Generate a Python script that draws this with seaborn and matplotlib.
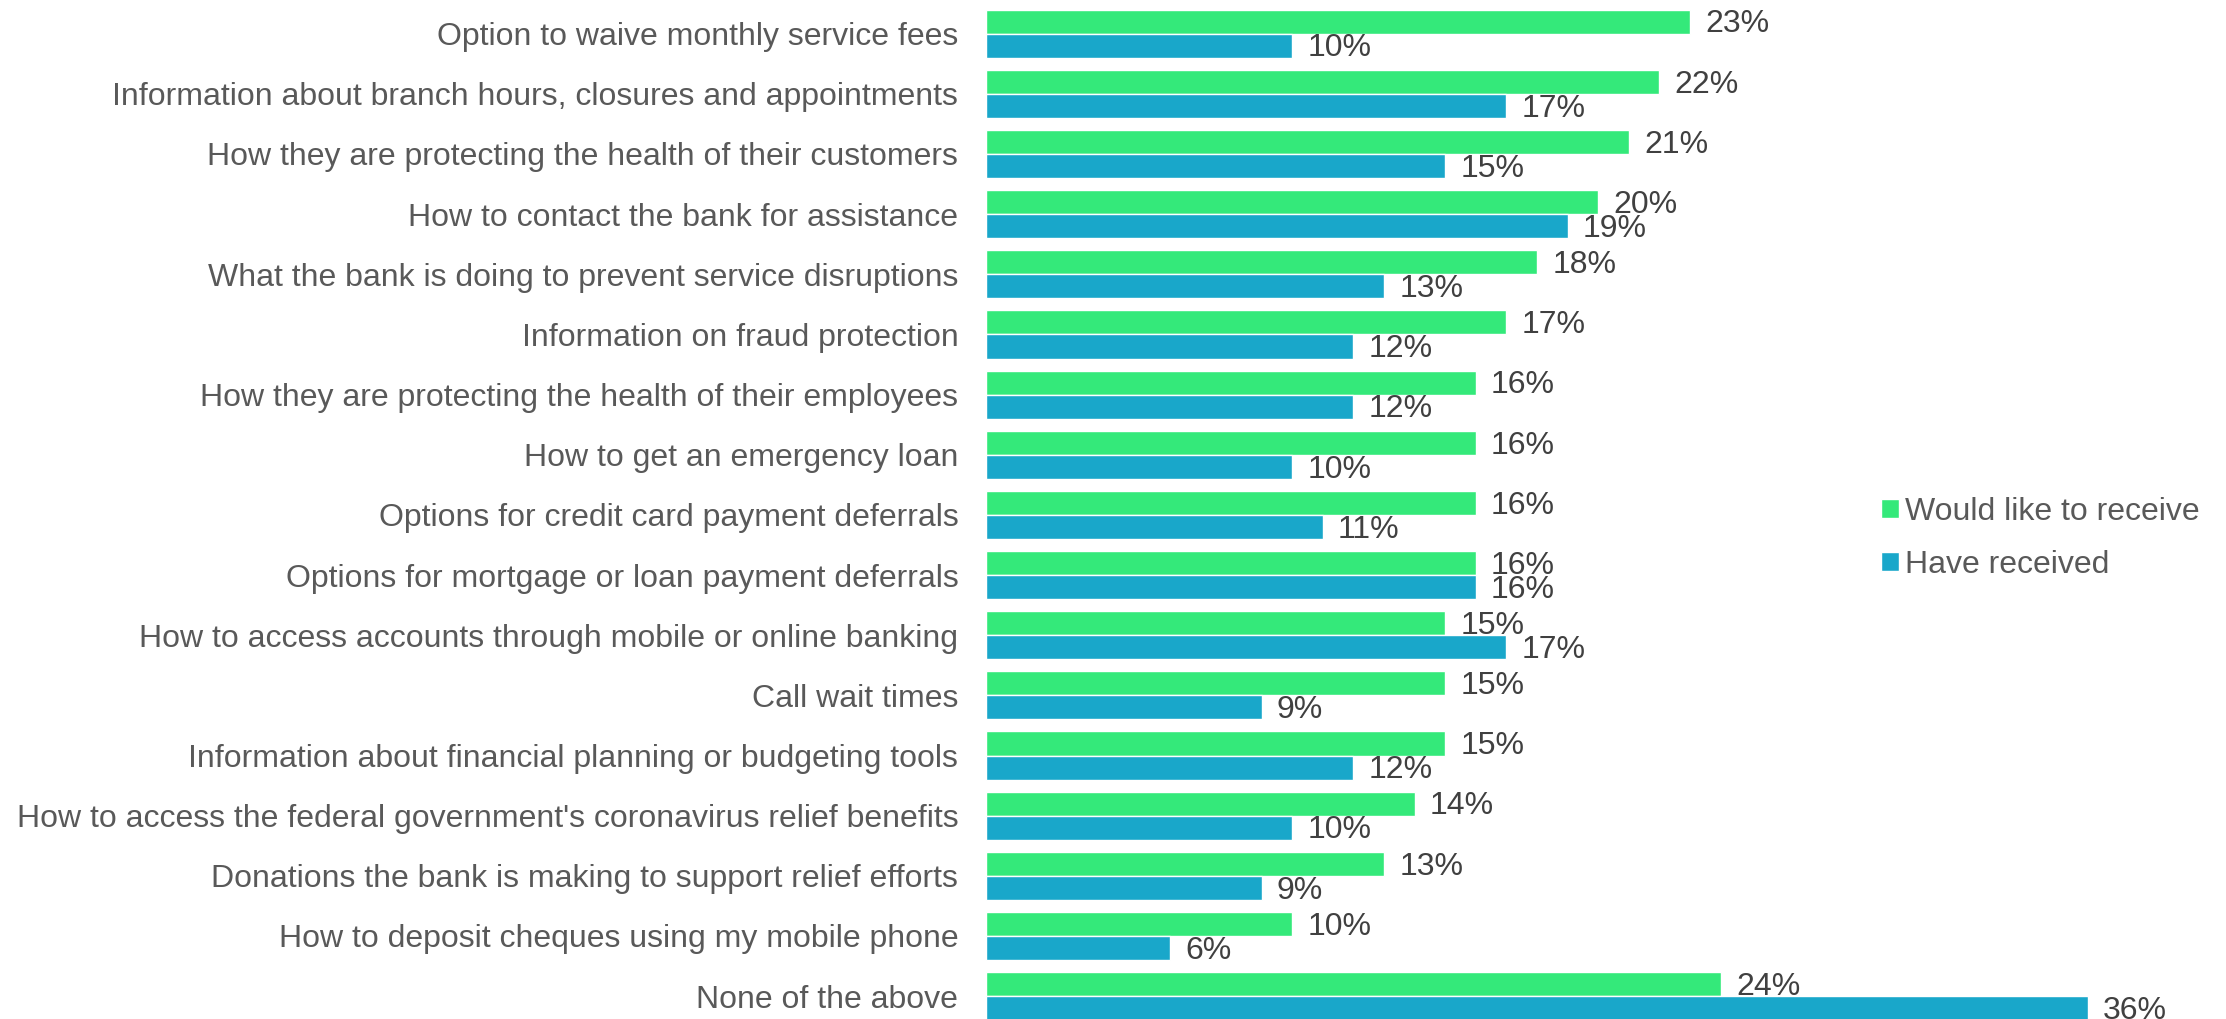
import matplotlib
matplotlib.use("Agg")
import matplotlib.pyplot as plt
import seaborn as sns
import pandas as pd

# Survey topics (top to bottom)
topics = [
    "Option to waive monthly service fees",
    "Information about branch hours, closures and appointments",
    "How they are protecting the health of their customers",
    "How to contact the bank for assistance",
    "What the bank is doing to prevent service disruptions",
    "Information on fraud protection",
    "How they are protecting the health of their employees",
    "How to get an emergency loan",
    "Options for credit card payment deferrals",
    "Options for mortgage or loan payment deferrals",
    "How to access accounts through mobile or online banking",
    "Call wait times",
    "Information about financial planning or budgeting tools",
    "How to access the federal government's coronavirus relief benefits",
    "Donations the bank is making to support relief efforts",
    "How to deposit cheques using my mobile phone",
    "None of the above",
]

series_names = ["Would like to receive", "Have received"]

would_like = [23, 22, 21, 20, 18, 17, 16, 16, 16, 16, 15, 15, 15, 14, 13, 10, 24]
have_received = [10, 17, 15, 19, 13, 12, 12, 10, 11, 16, 17, 9, 12, 10, 9, 6, 36]

colors = ["#34E97A", "#19A7CA"]

df = pd.DataFrame({
    "Topic": topics * 2,
    "Series": [series_names[0]] * len(topics) + [series_names[1]] * len(topics),
    "Percent": would_like + have_received,
})

sns.set_theme(style="white")
plt.rcParams["font.family"] = ["Liberation Sans", "DejaVu Sans"]

fig = plt.figure(figsize=(22.26, 10.19), dpi=100)
ax = fig.add_axes([0.443, 0.0, 0.55, 1.0])

sns.barplot(
    data=df, y="Topic", x="Percent", hue="Series",
    order=topics, hue_order=series_names,
    palette=colors, orient="h", width=0.8,
    saturation=1, ax=ax, errorbar=None,
)

# value labels just right of each bar, nudged slightly downward
for container in ax.containers:
    texts = ax.bar_label(container, fmt="%.0f%%", padding=11, fontsize=23,
                         color="#404040")
    for t in texts:
        x_off, y_off = t.xyann
        t.xyann = (x_off, y_off - 2)

ax.set_xlim(0, 40)
ax.set_ylim(16.38, -0.56)
ax.set_xlabel("")
ax.set_ylabel("")
ax.set_xticks([])
ax.tick_params(axis="y", length=0, pad=20, labelsize=23, labelcolor="#595959")
for side in ["top", "right", "bottom", "left"]:
    ax.spines[side].set_visible(False)

handles, labels = ax.get_legend_handles_labels()
ax.legend(
    handles, labels,
    loc="center left", bbox_to_anchor=(0.845, 0.4715),
    bbox_transform=fig.transFigure,
    frameon=False, fontsize=23, labelcolor="#595959",
    handlelength=0.55, handleheight=0.55, handletextpad=0.2,
    labelspacing=0.72, borderpad=0, borderaxespad=0,
)

fig.savefig("out.png", dpi=100)
